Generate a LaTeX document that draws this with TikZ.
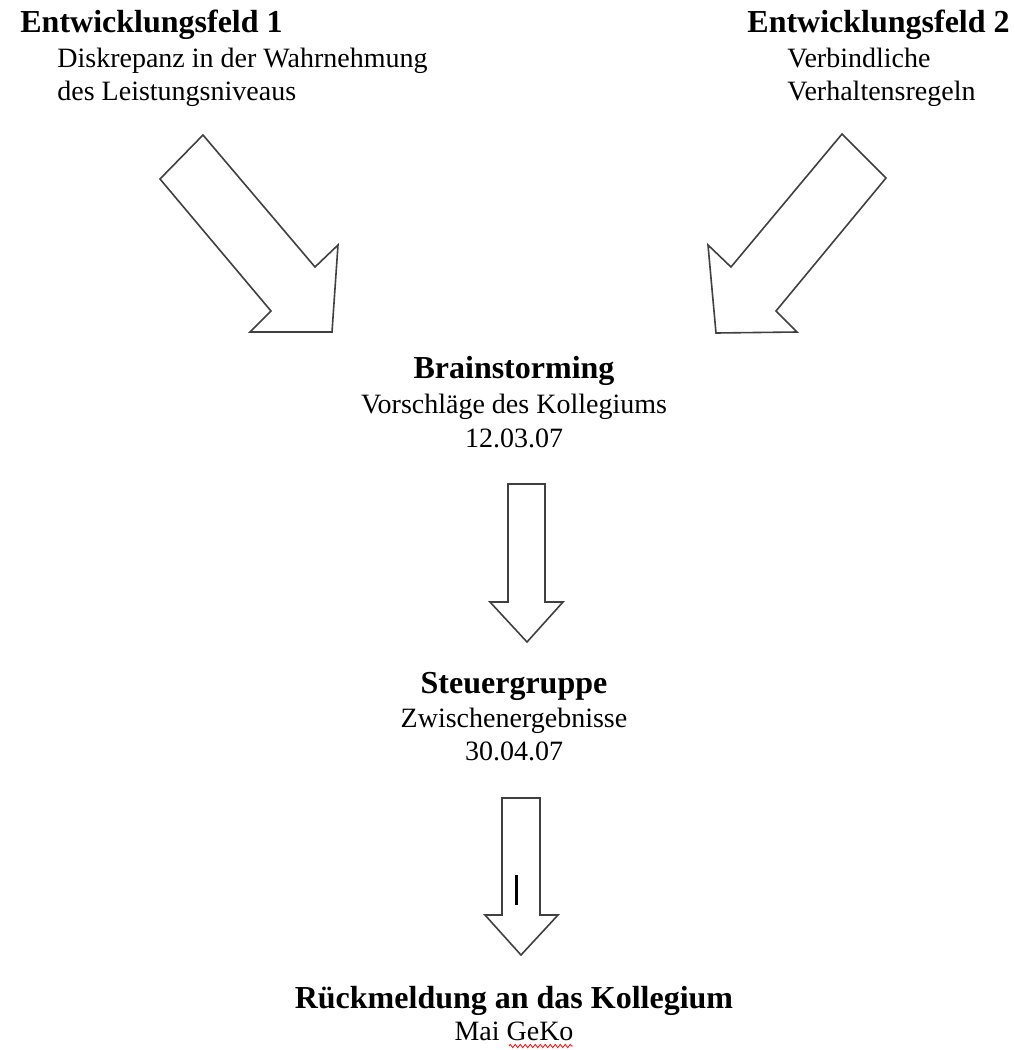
\documentclass[tikz,border=0pt]{standalone}
\usepackage{fontspec}
\setmainfont{Liberation Serif}
\usetikzlibrary{decorations.pathmorphing}
\tikzset{
  titulo/.style={font=\fontsize{16}{18}\selectfont\bfseries, inner sep=0pt},
  texto/.style={font=\fontsize{14}{17}\selectfont, inner sep=0pt},
  flecha/.style={draw=black!75, line width=0.8pt, line join=miter, fill=white},
}
\begin{document}
\begin{tikzpicture}[x=0.5pt, y=-0.5pt]
                \useasboundingbox (0,0) rectangle (1014,1050);
                % Campos de desarrollo
                \node[titulo, anchor=base west] (campo1) at (20,32) {Entwicklungsfeld 1};
                \node[texto, anchor=base west] (desc1a) at (57,67) {Diskrepanz in der Wahrnehmung};
                \node[texto, anchor=base west] (desc1b) at (57,100) {des Leistungsniveaus};
                \node[titulo, anchor=base west] (campo2) at (747,32) {Entwicklungsfeld 2};
                \node[texto, anchor=base west] (desc2a) at (787,67) {Verbindliche};
                \node[texto, anchor=base west] (desc2b) at (787,100) {Verhaltensregeln};

                % Pasos
                \node[titulo, anchor=base] (brain) at (514,378) {Brainstorming};
                \node[texto, anchor=base] (brainb) at (514,413) {Vorschläge des Kollegiums};
                \node[texto, anchor=base] (brainc) at (514,447) {12.03.07};
                \node[titulo, anchor=base] (steuer) at (514,693) {Steuergruppe};
                \node[texto, anchor=base] (steuerb) at (514,727) {Zwischenergebnisse};
                \node[texto, anchor=base] (steuerc) at (514,760) {30.04.07};
                \node[titulo, anchor=base] (rueck) at (514,1008) {Rückmeldung an das Kollegium};
                \node[texto, anchor=base] (rueckb) at (514,1040) {Mai GeKo};

                % Flechas
                \draw[flecha] (203,135) -- (315,267) -- (338,245) -- (332,332) -- (250,332) -- (271,311) -- (160,179) -- cycle;
                \draw[flecha] (842,134) -- (886,178) -- (776,311) -- (797,332) -- (716,333) -- (708,245) -- (731,267) -- cycle;
                \draw[flecha] (508,484) -- (545,484) -- (545,602) -- (563,602) -- (527,642) -- (490,602) -- (508,602) -- cycle;
                \draw[flecha] (502,798) -- (540,798) -- (540,915) -- (558,915) -- (521,955) -- (485,915) -- (502,915) -- cycle;

                % Cursor y subrayado
                \draw[line width=1.5pt] (516,875) -- (516,905);
                \draw[red, line width=0.4pt, decorate, decoration={zigzag, amplitude=0.8pt, segment length=2.5pt}] (509,1046) -- (573,1046);
            \end{tikzpicture}
\end{document}
